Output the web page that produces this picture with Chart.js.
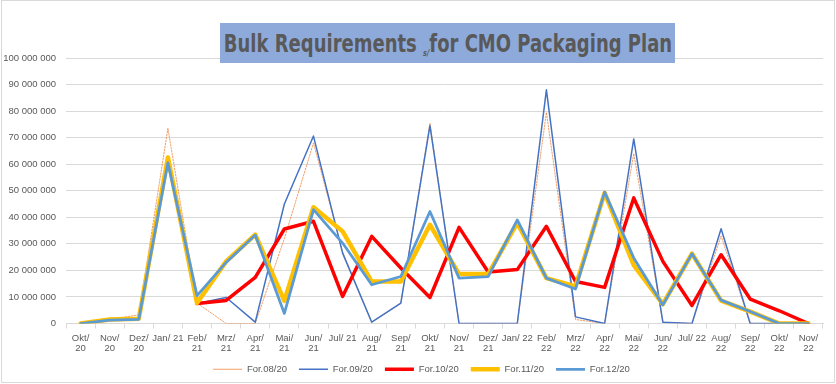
<!DOCTYPE html>
<html>
<head>
<meta charset="utf-8">
<script src="https://cdn.jsdelivr.net/npm/chart.js@4.4.0/dist/chart.umd.min.js"></script>
<style>
  body { margin: 0; background: #fff; }
  #wrap { position: relative; width: 836px; height: 384px; }
  #frame { position: absolute; left: 1px; top: 0; width: 834px; height: 383px; box-sizing: border-box; border: 1px solid #d9d9d9; pointer-events: none; }
  #title {
    position: absolute; left: 220px; top: 23px; width: 455px; height: 40px;
    background: #8eaadb; color: #595959; z-index: 2; overflow: hidden;
    font-family: 'Liberation Sans Narrow', 'DejaVu Sans Condensed', sans-serif;
    font-weight: bold; font-size: 25px; white-space: nowrap;
  }
  #title span {
    position: absolute; left: 50%; top: 0; line-height: 42px;
    transform: translateX(-50%) scaleX(0.8); transform-origin: center;
  }
  #title small { font-size: 9px; font-style: italic; vertical-align: -4px; }
</style>
</head>
<body>
<div id="wrap">
  <canvas id="bulkChart"></canvas>
  <div id="title"><span>Bulk Requirements <small>s/</small>for CMO Packaging Plan</span></div>
  <div id="frame"></div>
</div>
<script>
// values in millions of units
var months = ['Okt/ 20', 'Nov/ 20', 'Dez/ 20', 'Jan/ 21', 'Feb/ 21', 'Mrz/ 21', 'Apr/ 21', 'Mai/ 21', 'Jun/ 21',
    'Jul/ 21', 'Aug/ 21', 'Sep/ 21', 'Okt/ 21', 'Nov/ 21', 'Dez/ 21', 'Jan/ 22', 'Feb/ 22', 'Mrz/ 22',
    'Apr/ 22', 'Mai/ 22', 'Jun/ 22', 'Jul/ 22', 'Aug/ 22', 'Sep/ 22', 'Okt/ 22', 'Nov/ 22'];

var for0820 = [0, 1.5, 3.3, 73.5, 7.7, 0, 0, 32, 68, 27, 0.5, 7.5, 75.5, 0, 0, 0, 79.5, 1.5, 0, 64, 0.5, 0, 33, 0, 0, 0];
var for0920 = [0, 1.5, 2, 61, 7.5, 9.8, 0.5, 45, 70.6, 26.5, 0.5, 7.7, 74.5, 0, 0, 0, 88, 2.5, 0, 69.5, 0.5, 0, 35.7, 0, 0, 0];
var for1020 = [null, null, null, null, 7.5, 8.7, 17.4, 35.6, 38.5, 10.2, 32.8, 20.9, 9.8, 36.2, 19.4, 20.3, 36.6, 15.8, 13.6, 47.3, 23.4, 6.8, 25.9, 9.2, 4.8, 0];
var for1120 = [0, 1.5, 1.8, 62.5, 7.7, 23.4, 33.5, 8.5, 43.8, 34.7, 15.8, 15.8, 37.2, 18.6, 18.6, 37.9, 17.1, 14, 49.2, 22, 7.3, 26.3, 8.6, 4.5, 0, 0];
var for1220 = [0, 1.3, 1.6, 60.5, 10.5, 23, 33.3, 3.8, 42.9, 30.3, 14.6, 17.7, 42.2, 17.1, 17.7, 39, 17.1, 13, 49.5, 24.7, 7, 26.3, 8.8, 4.5, 0, 0];

var seriesNames = ['For.08/20', 'For.09/20', 'For.10/20', 'For.11/20', 'For.12/20'];

// Jan and Jul labels fit on one line, the others wrap
var tickLabels = months.map(function(m) {
    return (m.indexOf('Jan') === 0 || m.indexOf('Jul') === 0) ? m : m.split(' ');
});

function spaced(n) {
    return String(n).replace(/\B(?=(\d{3})+(?!\d))/g, ' ');
}

// legend sits a little right of the canvas centre, as in Excel
var legendShift = {
    id: 'legendShift',
    afterLayout: function(chart) {
        chart.legend.left += 10;
        chart.legend.right += 10;
    }
};

Chart.defaults.font.family = "'Liberation Sans', Arial, sans-serif";
Chart.defaults.color = '#595959';

var ctx = document.getElementById('bulkChart').getContext('2d');
var chart = new Chart(ctx, {
    type: 'line',
    data: {
        labels: tickLabels,
        datasets: [
            { label: seriesNames[0], data: for0820, borderColor: 'rgba(237,125,49,0.75)', backgroundColor: 'rgba(237,125,49,0.75)', borderWidth: 1, borderDash: [1.5, 1.5], order: 5 },
            { label: seriesNames[1], data: for0920, borderColor: '#4472c4', backgroundColor: '#4472c4', borderWidth: 1.5, order: 4 },
            { label: seriesNames[2], data: for1020, borderColor: '#ff0000', backgroundColor: '#ff0000', borderWidth: 3.5, order: 3 },
            { label: seriesNames[3], data: for1120, borderColor: '#ffc000', backgroundColor: '#ffc000', borderWidth: 4.5, order: 2 },
            { label: seriesNames[4], data: for1220, borderColor: '#5b9bd5', backgroundColor: '#5b9bd5', borderWidth: 2.75, order: 1 }
        ]
    },
    options: {
        responsive: true,
        maintainAspectRatio: false,
        animation: false,
        elements: {
            point: { radius: 0, hoverRadius: 0 },
            line: { tension: 0, borderCapStyle: 'round', borderJoinStyle: 'round' }
        },
        layout: { padding: { left: 0, right: 13, top: 58, bottom: 0 } },
        scales: {
            x: {
                offset: true,
                grid: { display: true, drawOnChartArea: false, drawTicks: true, tickLength: 5, offset: true, color: '#d9d9d9' },
                border: { color: '#d9d9d9' },
                ticks: { autoSkip: false, maxRotation: 0, padding: 5, font: { size: 9.5, lineHeight: 1.05 } },
                afterFit: function(scale) { scale.height = 29; }
            },
            y: {
                min: 0,
                max: 100,
                grid: { color: '#d9d9d9', drawTicks: false },
                border: { display: false },
                ticks: {
                    stepSize: 10,
                    padding: 10,
                    font: { size: 9.5 },
                    callback: function(v) { return spaced(Math.round(v * 1000000)); }
                },
                afterFit: function(scale) { scale.width = 66; }
            }
        },
        plugins: {
            legend: {
                position: 'bottom',
                labels: {
                    usePointStyle: true,
                    pointStyle: 'line',
                    pointStyleWidth: 29,
                    padding: 12,
                    font: { size: 9.5 },
                    sort: function(a, b) { return a.datasetIndex - b.datasetIndex; }
                }
            },
            tooltip: { enabled: false }
        }
    },
    plugins: [legendShift]
});
</script>
</body>
</html>
